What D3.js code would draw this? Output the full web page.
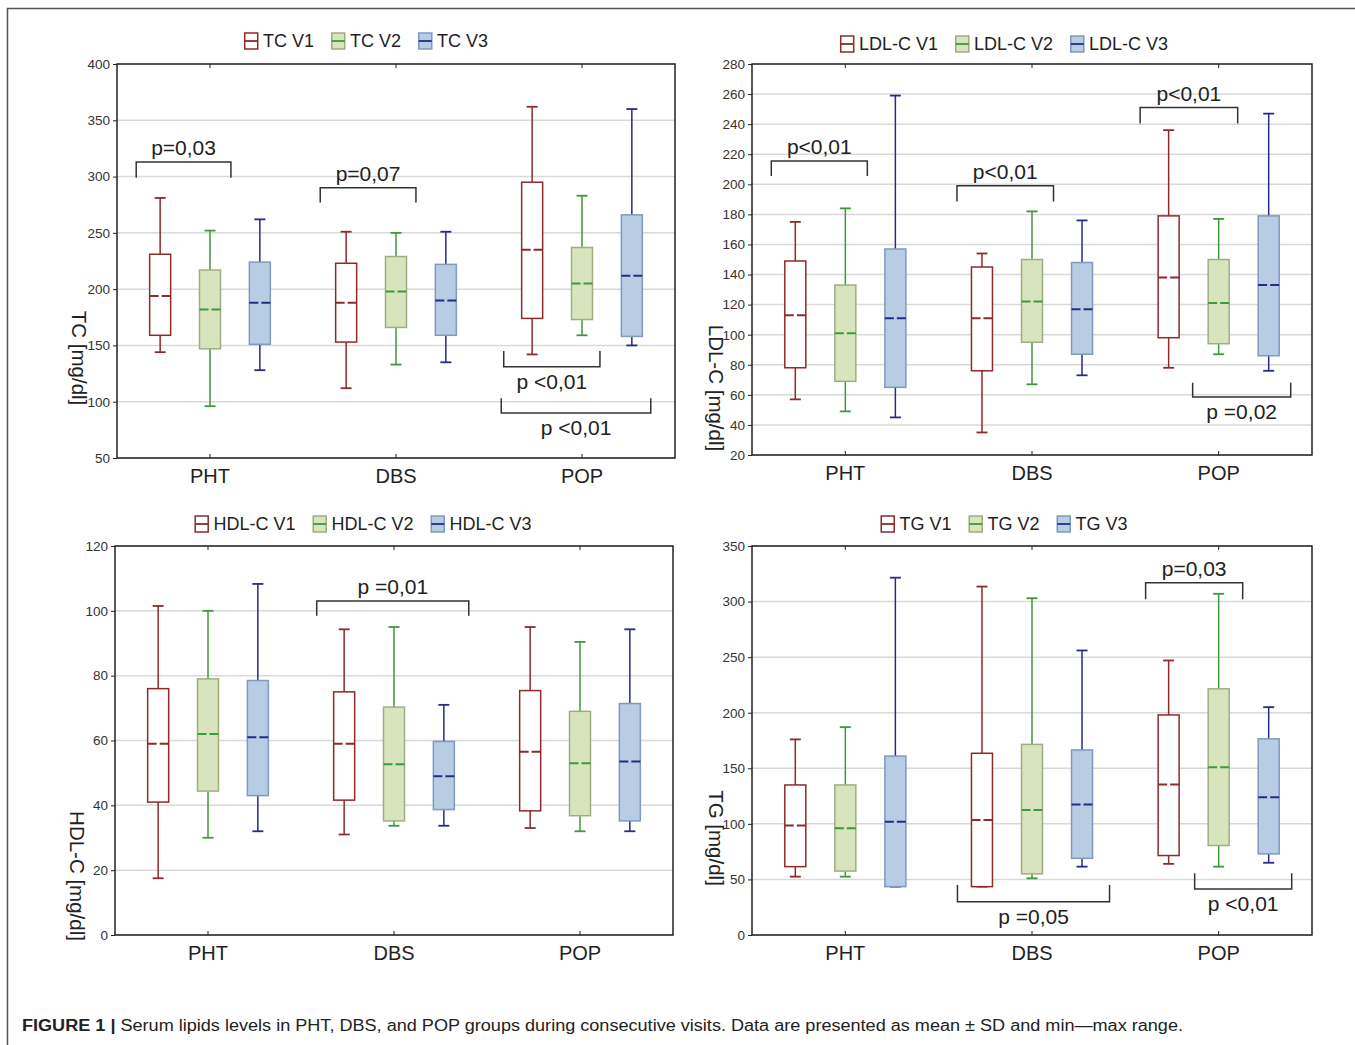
<!DOCTYPE html>
<html>
<head>
<meta charset="utf-8">
<script src="https://cdn.jsdelivr.net/npm/d3@7"></script>
<style>
  body { margin: 0; background: #fff; }
  svg { display: block; }
  text { font-family: "Liberation Sans", Arial, sans-serif; }
</style>
</head>
<body>
<div id="fig"></div>
<script>
// categories
let groups = ["PHT", "DBS", "POP"];
let visits = ["V1", "V2", "V3"];

// each entry: [min, mean-SD, mean, mean+SD, max] for PHT, DBS, POP
let tcV1 = [[144, 159, 194, 231, 281], [112, 153, 188, 223, 251], [142, 174, 235, 295, 362]];
let tcV2 = [[96, 147, 182, 217, 252], [133, 166, 198, 229, 250], [159, 173, 205, 237, 283]];
let tcV3 = [[128, 151, 188, 224, 262], [135, 159, 190, 222, 251], [150, 158, 212, 266, 360]];

let ldlV1 = [[57, 78, 113, 149, 175], [35, 76, 111, 145, 154], [78, 98, 138, 179, 236]];
let ldlV2 = [[49, 69, 101, 133, 184], [67, 95, 122, 150, 182], [87, 94, 121, 150, 177]];
let ldlV3 = [[45, 65, 111, 157, 259], [73, 87, 117, 148, 176], [76, 86, 133, 179, 247]];

let hdlV1 = [[17.5, 41, 59, 76, 101.5], [31, 41.6, 59, 75, 94.3], [33, 38.3, 56.5, 75.4, 95]];
let hdlV2 = [[30, 44.4, 62, 79, 100], [33.7, 35.2, 52.7, 70.3, 95], [32, 36.8, 53, 69, 90.4]];
let hdlV3 = [[32, 43, 61, 78.5, 108.3], [33.7, 38.7, 49, 59.7, 71], [32, 35.2, 53.5, 71.4, 94.3]];

let tgV1 = [[52.5, 61.5, 98.5, 135, 176], [43.5, 43.5, 103.5, 163.5, 313.5], [64, 71.5, 135.5, 198, 247]];
let tgV2 = [[52.5, 57.5, 96, 135, 187], [51, 55, 112.5, 171.5, 303], [61.5, 80.5, 151, 221.5, 307]];
let tgV3 = [[43.5, 43.5, 102, 161, 321.5], [61.5, 69, 117.5, 166.5, 256], [65, 73, 124, 176.5, 205]];

// y tick values
let tcTicks = [50, 100, 150, 200, 250, 300, 350, 400];
let ldlTicks = [20, 40, 60, 80, 100, 120, 140, 160, 180, 200, 220, 240, 260, 280];
let hdlTicks = [0, 20, 40, 60, 80, 100, 120];
let tgTicks = [0, 50, 100, 150, 200, 250, 300, 350];

// significance brackets: [group, from, to (in visit units, V1=-1 .. V3=1), line value, leg value, label]
let tcBrackets = [
  [0, -1.48, 0.42, 313, 299, "p=0,03"],
  [1, -1.52, 0.40, 290, 277, "p=0,07"],
  [2, -1.57, 0.36, 131, 145, "p <0,01"],
  [2, -1.62, 1.38, 90, 103, "p <0,01"]
];
let ldlBrackets = [
  [0, -1.48, 0.44, 215.5, 205.5, "p<0,01"],
  [1, -1.50, 0.43, 199, 188.5, "p<0,01"],
  [2, -1.57, 0.38, 251, 240.5, "p<0,01"],
  [2, -0.52, 1.44, 58.5, 68, "p =0,02"]
];
let hdlBrackets = [
  [1, -1.55, 1.50, 103, 98.5, "p =0,01"]
];
let tgBrackets = [
  [1, -1.49, 1.55, 30, 45, "p =0,05"],
  [2, -1.46, 0.48, 317, 302, "p=0,03"],
  [2, -0.48, 1.46, 41.5, 55.5, "p <0,01"]
];

let caption = "Serum lipids levels in PHT, DBS, and POP groups during consecutive visits. Data are presented as mean \u00b1 SD and min\u2014max range.";

// styles for V1, V2, V3
let lineColors = ["#8e2a2a", "#3b9a3b", "#272b86"];
let boxFills = ["#ffffff", "#d8e4bd", "#b8cce4"];
let boxStrokes = ["#8e2a2a", "#9fae80", "#7f99c0"];

let panels = [
  {name: "TC", data: [tcV1, tcV2, tcV3], ticks: tcTicks, brackets: tcBrackets,
   left: 117, right: 675, top: 64, bottom: 458, legendY: 41, legendX: 366,
   ylabel: "TC [mg/dl]", ylabelX: 79, ylabelY: 358},
  {name: "LDL-C", data: [ldlV1, ldlV2, ldlV3], ticks: ldlTicks, brackets: ldlBrackets,
   left: 752, right: 1312, top: 64, bottom: 455, legendY: 44, legendX: 1004,
   ylabel: "LDL-C [mg/dl]", ylabelX: 716, ylabelY: 388},
  {name: "HDL-C", data: [hdlV1, hdlV2, hdlV3], ticks: hdlTicks, brackets: hdlBrackets,
   left: 115, right: 673, top: 546, bottom: 935, legendY: 524, legendX: 363,
   ylabel: "HDL-C [mg/dl]", ylabelX: 77, ylabelY: 876},
  {name: "TG", data: [tgV1, tgV2, tgV3], ticks: tgTicks, brackets: tgBrackets,
   left: 752, right: 1312, top: 546, bottom: 935, legendY: 524, legendX: 1004,
   ylabel: "TG [mg/dl]", ylabelX: 716, ylabelY: 838}
];

let svg = d3.select("#fig")
  .append("svg")
  .attr("width", 1355)
  .attr("height", 1045);

// outer frame (top and left edges only)
svg.append("path")
  .attr("d", "M7.5,1045V8.5H1355")
  .attr("fill", "none")
  .attr("stroke", "#555")
  .attr("stroke-width", 1.5);

panels.forEach(drawPanel);

// caption
let cap = svg.append("text")
  .attr("x", 22)
  .attr("y", 1031)
  .attr("font-size", 16)
  .attr("fill", "#222")
  .attr("textLength", 1161)
  .attr("lengthAdjust", "spacingAndGlyphs");
cap.append("tspan").attr("font-weight", "bold").text("FIGURE 1 | ");
cap.append("tspan").text(caption);


function drawPanel(p) {
  let g = svg.append("g");

  let y = d3.scaleLinear()
    .domain([p.ticks[0], p.ticks[p.ticks.length - 1]])
    .range([p.bottom, p.top]);

  let x = d3.scaleBand()
    .domain(groups)
    .range([p.left, p.right]);

  let off = d3.scaleLinear()
    .domain([-1, 1])
    .range([-x.bandwidth() * 0.268, x.bandwidth() * 0.268]);

  let cx = function (gi, v) { return x(groups[gi]) + x.bandwidth() / 2 + off(v); };
  let boxW = 21, capW = 11;

  // gridlines
  g.append("g")
    .selectAll("line")
    .data(p.ticks)
    .enter()
    .append("line")
    .attr("x1", p.left)
    .attr("x2", p.right)
    .attr("y1", d => y(d))
    .attr("y2", d => y(d))
    .attr("stroke", "#d9d9d9")
    .attr("stroke-width", 1.5);

  // y axis
  let ya = g.append("g")
    .attr("transform", "translate(" + p.left + ",0)")
    .call(d3.axisLeft(y).tickValues(p.ticks).tickSize(4).tickSizeOuter(0).tickPadding(3));
  ya.select(".domain").remove();
  ya.selectAll("text").attr("font-size", 13.5).attr("fill", "#333").style("font-family", "Liberation Sans, Arial, sans-serif");
  ya.selectAll("line").attr("stroke", "#222");

  // x axis (bottom, ticks point inside)
  let xa = g.append("g")
    .attr("transform", "translate(0," + p.bottom + ")")
    .call(d3.axisBottom(x).tickSize(-4).tickSizeOuter(0).tickPadding(11));
  xa.select(".domain").remove();
  xa.selectAll("text").attr("font-size", 20).attr("fill", "#222").style("font-family", "Liberation Sans, Arial, sans-serif");
  xa.selectAll("line").attr("stroke", "#222");

  let xt = g.append("g")
    .attr("transform", "translate(0," + p.top + ")")
    .call(d3.axisTop(x).tickSize(-4).tickSizeOuter(0).tickFormat(""));
  xt.select(".domain").remove();
  xt.selectAll("line").attr("stroke", "#222");

  // boxes
  p.data.forEach(function (series, vi) {
    let v = vi - 1;
    let sg = g.append("g").selectAll("g")
      .data(series)
      .enter()
      .append("g");

    // whiskers
    sg.append("line")
      .attr("x1", (d, i) => cx(i, v)).attr("x2", (d, i) => cx(i, v))
      .attr("y1", d => y(d[4])).attr("y2", d => y(d[3]))
      .attr("stroke", lineColors[vi]).attr("stroke-width", 1.5);
    sg.append("line")
      .attr("x1", (d, i) => cx(i, v)).attr("x2", (d, i) => cx(i, v))
      .attr("y1", d => y(d[1])).attr("y2", d => y(d[0]))
      .attr("stroke", lineColors[vi]).attr("stroke-width", 1.5);
    // caps
    [0, 4].forEach(function (k) {
      sg.append("line")
        .attr("x1", (d, i) => cx(i, v) - capW / 2).attr("x2", (d, i) => cx(i, v) + capW / 2)
        .attr("y1", d => y(d[k])).attr("y2", d => y(d[k]))
        .attr("stroke", lineColors[vi]).attr("stroke-width", 1.8);
    });

    sg.append("rect")
      .attr("x", (d, i) => cx(i, v) - boxW / 2)
      .attr("width", boxW)
      .attr("y", d => y(d[3]))
      .attr("height", d => y(d[1]) - y(d[3]))
      .attr("fill", boxFills[vi])
      .attr("stroke", boxStrokes[vi])
      .attr("stroke-width", 1.5);

    // mean
    sg.append("line")
      .attr("x1", (d, i) => cx(i, v) - boxW / 2).attr("x2", (d, i) => cx(i, v) + boxW / 2)
      .attr("y1", d => y(d[2])).attr("y2", d => y(d[2]))
      .attr("stroke", lineColors[vi]).attr("stroke-width", 2)
      .attr("stroke-dasharray", "9,3");
  });

  // frame
  g.append("rect")
    .attr("x", p.left).attr("y", p.top)
    .attr("width", p.right - p.left).attr("height", p.bottom - p.top)
    .attr("fill", "none").attr("stroke", "#222").attr("stroke-width", 1.5);

  // brackets
  let bg = g.append("g");
  p.brackets.forEach(function (b) {
    let x0 = cx(b[0], b[1]), x1 = cx(b[0], b[2]);
    let yl = y(b[3]), yg = y(b[4]);
    bg.append("path")
      .attr("d", "M" + x0 + "," + yg + "V" + yl + "H" + x1 + "V" + yg)
      .attr("fill", "none").attr("stroke", "#333").attr("stroke-width", 1.5);
    bg.append("text")
      .attr("x", (x0 + x1) / 2)
      .attr("y", b[3] > b[4] ? yl - 7 : yl + 22)
      .attr("text-anchor", "middle")
      .attr("font-size", 21)
      .attr("fill", "#222")
      .text(b[5]);
  });

  // y title
  g.append("text")
    .attr("transform", "translate(" + p.ylabelX + "," + p.ylabelY + ") rotate(90)")
    .attr("text-anchor", "middle")
    .attr("dy", "0.35em")
    .attr("font-size", 20.5)
    .attr("fill", "#222")
    .text(p.ylabel);

  // legend
  let lg = g.append("g");
  let lx = 0;
  visits.forEach(function (vis, vi) {
    let item = lg.append("g").attr("transform", "translate(" + lx + ",0)");
    item.append("rect")
      .attr("x", 0.75).attr("y", -8)
      .attr("width", 13).attr("height", 16)
      .attr("fill", boxFills[vi]).attr("stroke", boxStrokes[vi]).attr("stroke-width", 1.5);
    item.append("line")
      .attr("x1", 0.75).attr("x2", 13.75).attr("y1", 0).attr("y2", 0)
      .attr("stroke", lineColors[vi]).attr("stroke-width", 1.8);
    let t = item.append("text")
      .attr("x", 19).attr("dy", "0.35em")
      .attr("font-size", 18).attr("fill", "#222")
      .text(p.name + " " + vis);
    lx += 19 + t.node().getComputedTextLength() + 17;
  });
  let lw = lx - 17;
  lg.attr("transform", "translate(" + (p.legendX - lw / 2) + "," + p.legendY + ")");
}
</script>
</body>
</html>
